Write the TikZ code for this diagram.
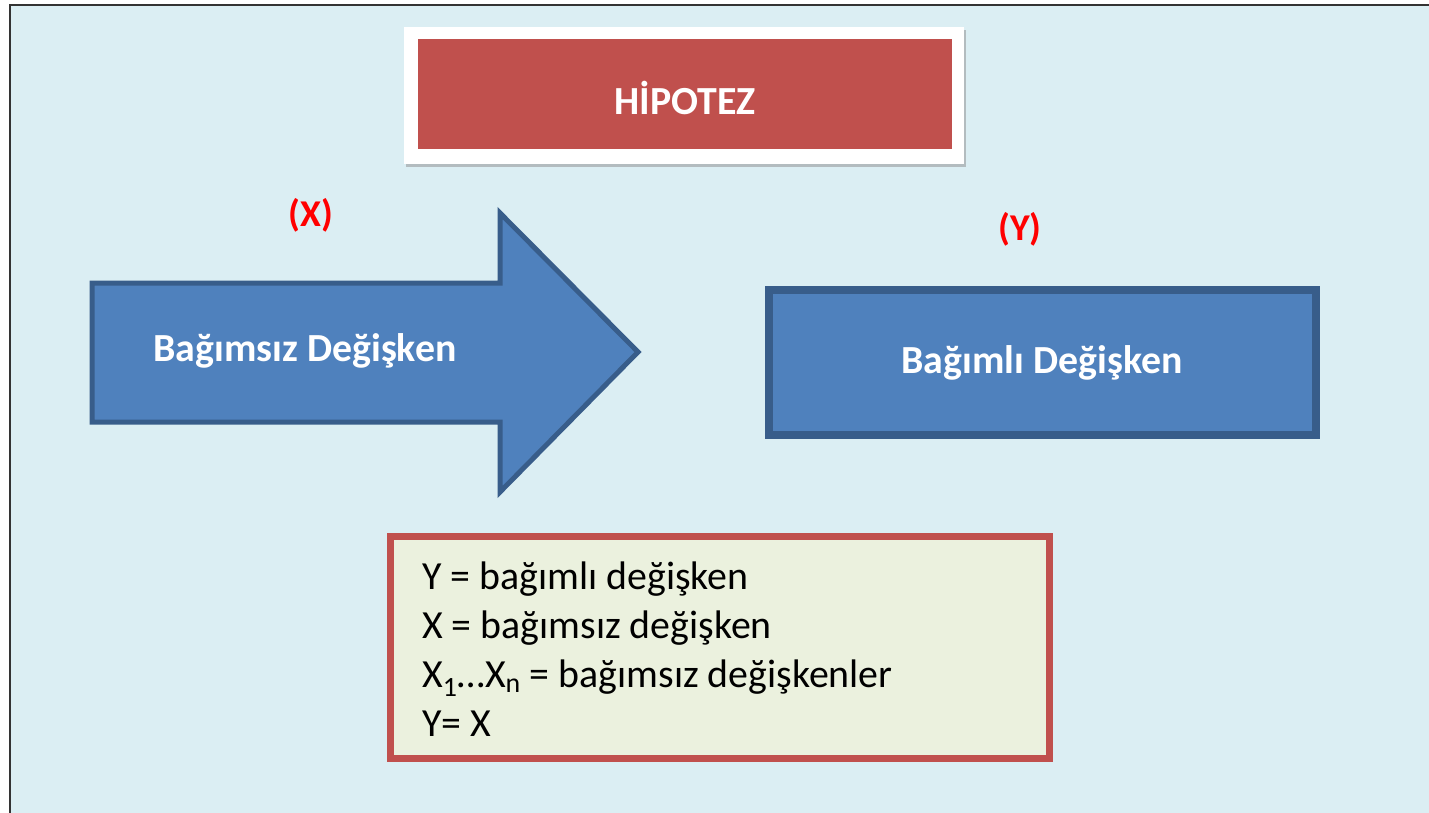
\documentclass[tikz,border=0pt]{standalone}
\usepackage{fontspec}
\setmainfont{Carlito}
\usetikzlibrary{positioning, shadows}
\definecolor{framebg}{RGB}{219,238,243}
\definecolor{hipred}{RGB}{192,80,77}
\definecolor{varblue}{RGB}{79,129,189}
\definecolor{varedge}{RGB}{56,93,138}
\definecolor{notefill}{RGB}{235,241,222}
\definecolor{labelred}{RGB}{255,0,0}

\tikzset{
    boldtext/.style={text=white, inner sep=0pt, font=\fontsize{40}{46}\selectfont\bfseries},
    varlabel/.style={text=labelred, inner sep=0pt, font=\fontsize{38}{44}\selectfont\bfseries}
}

\begin{document}
\begin{tikzpicture}[x=1bp, y=-1bp]
    \useasboundingbox (0,0) rectangle (1429,812);

    % Background frame (only left and top edges are visible)
    \fill[framebg] (10,5) rectangle (1445,830);
    \draw[line width=2.5bp, draw=black!80] (10,830) -- (10,5) -- (1445,5);

    % Title
    \node[fill=white, minimum width=560bp, minimum height=136bp, inner sep=0pt,
          drop shadow={shadow xshift=2bp, shadow yshift=-3bp, fill=black!45, opacity=0.5}]
          (hipbox) at (684,95.5) {};
    \node[fill=hipred, minimum width=534bp, minimum height=110bp, inner sep=0pt]
          (hipotez) at (685,94) {};
    \node[boldtext] (hiptitle) at (685,98) {HİPOTEZ};

    % Independent variable (arrow)
    \draw[line width=5bp, draw=varedge, fill=varblue, line join=miter]
        (92,283) -- (500,283) -- (500,213) -- (638,352) -- (500,492) -- (500,422) -- (92,422) -- cycle;
    \node[boldtext] (indep) at (305,351) {Bağımsız Değişken};
    \node[varlabel] (xlabel) at (311,215) {(X)};

    % Dependent variable
    \node[draw=varedge, line width=8bp, fill=varblue, minimum width=547bp, minimum height=145bp,
          inner sep=0pt, boldtext] (dep) at (1042,362.5) {Bağımlı Değişken};
    \node[varlabel] (ylabel) at (1020,229) {(Y)};

    % Notation
    \node[draw=hipred, line width=7bp, fill=notefill, minimum width=659bp, minimum height=222bp,
          inner sep=0pt] (legend) at (719.5,647.5) {};
    \node[anchor=north west, align=left, inner sep=0pt, font=\fontsize{40}{49}\selectfont]
          (legendtext) at (422,562) {Y = bağımlı değişken\\
          X = bağımsız değişken\\
          X\textsubscript{1}…X\textsubscript{n} = bağımsız değişkenler\\
          Y= X};
\end{tikzpicture}
\end{document}
